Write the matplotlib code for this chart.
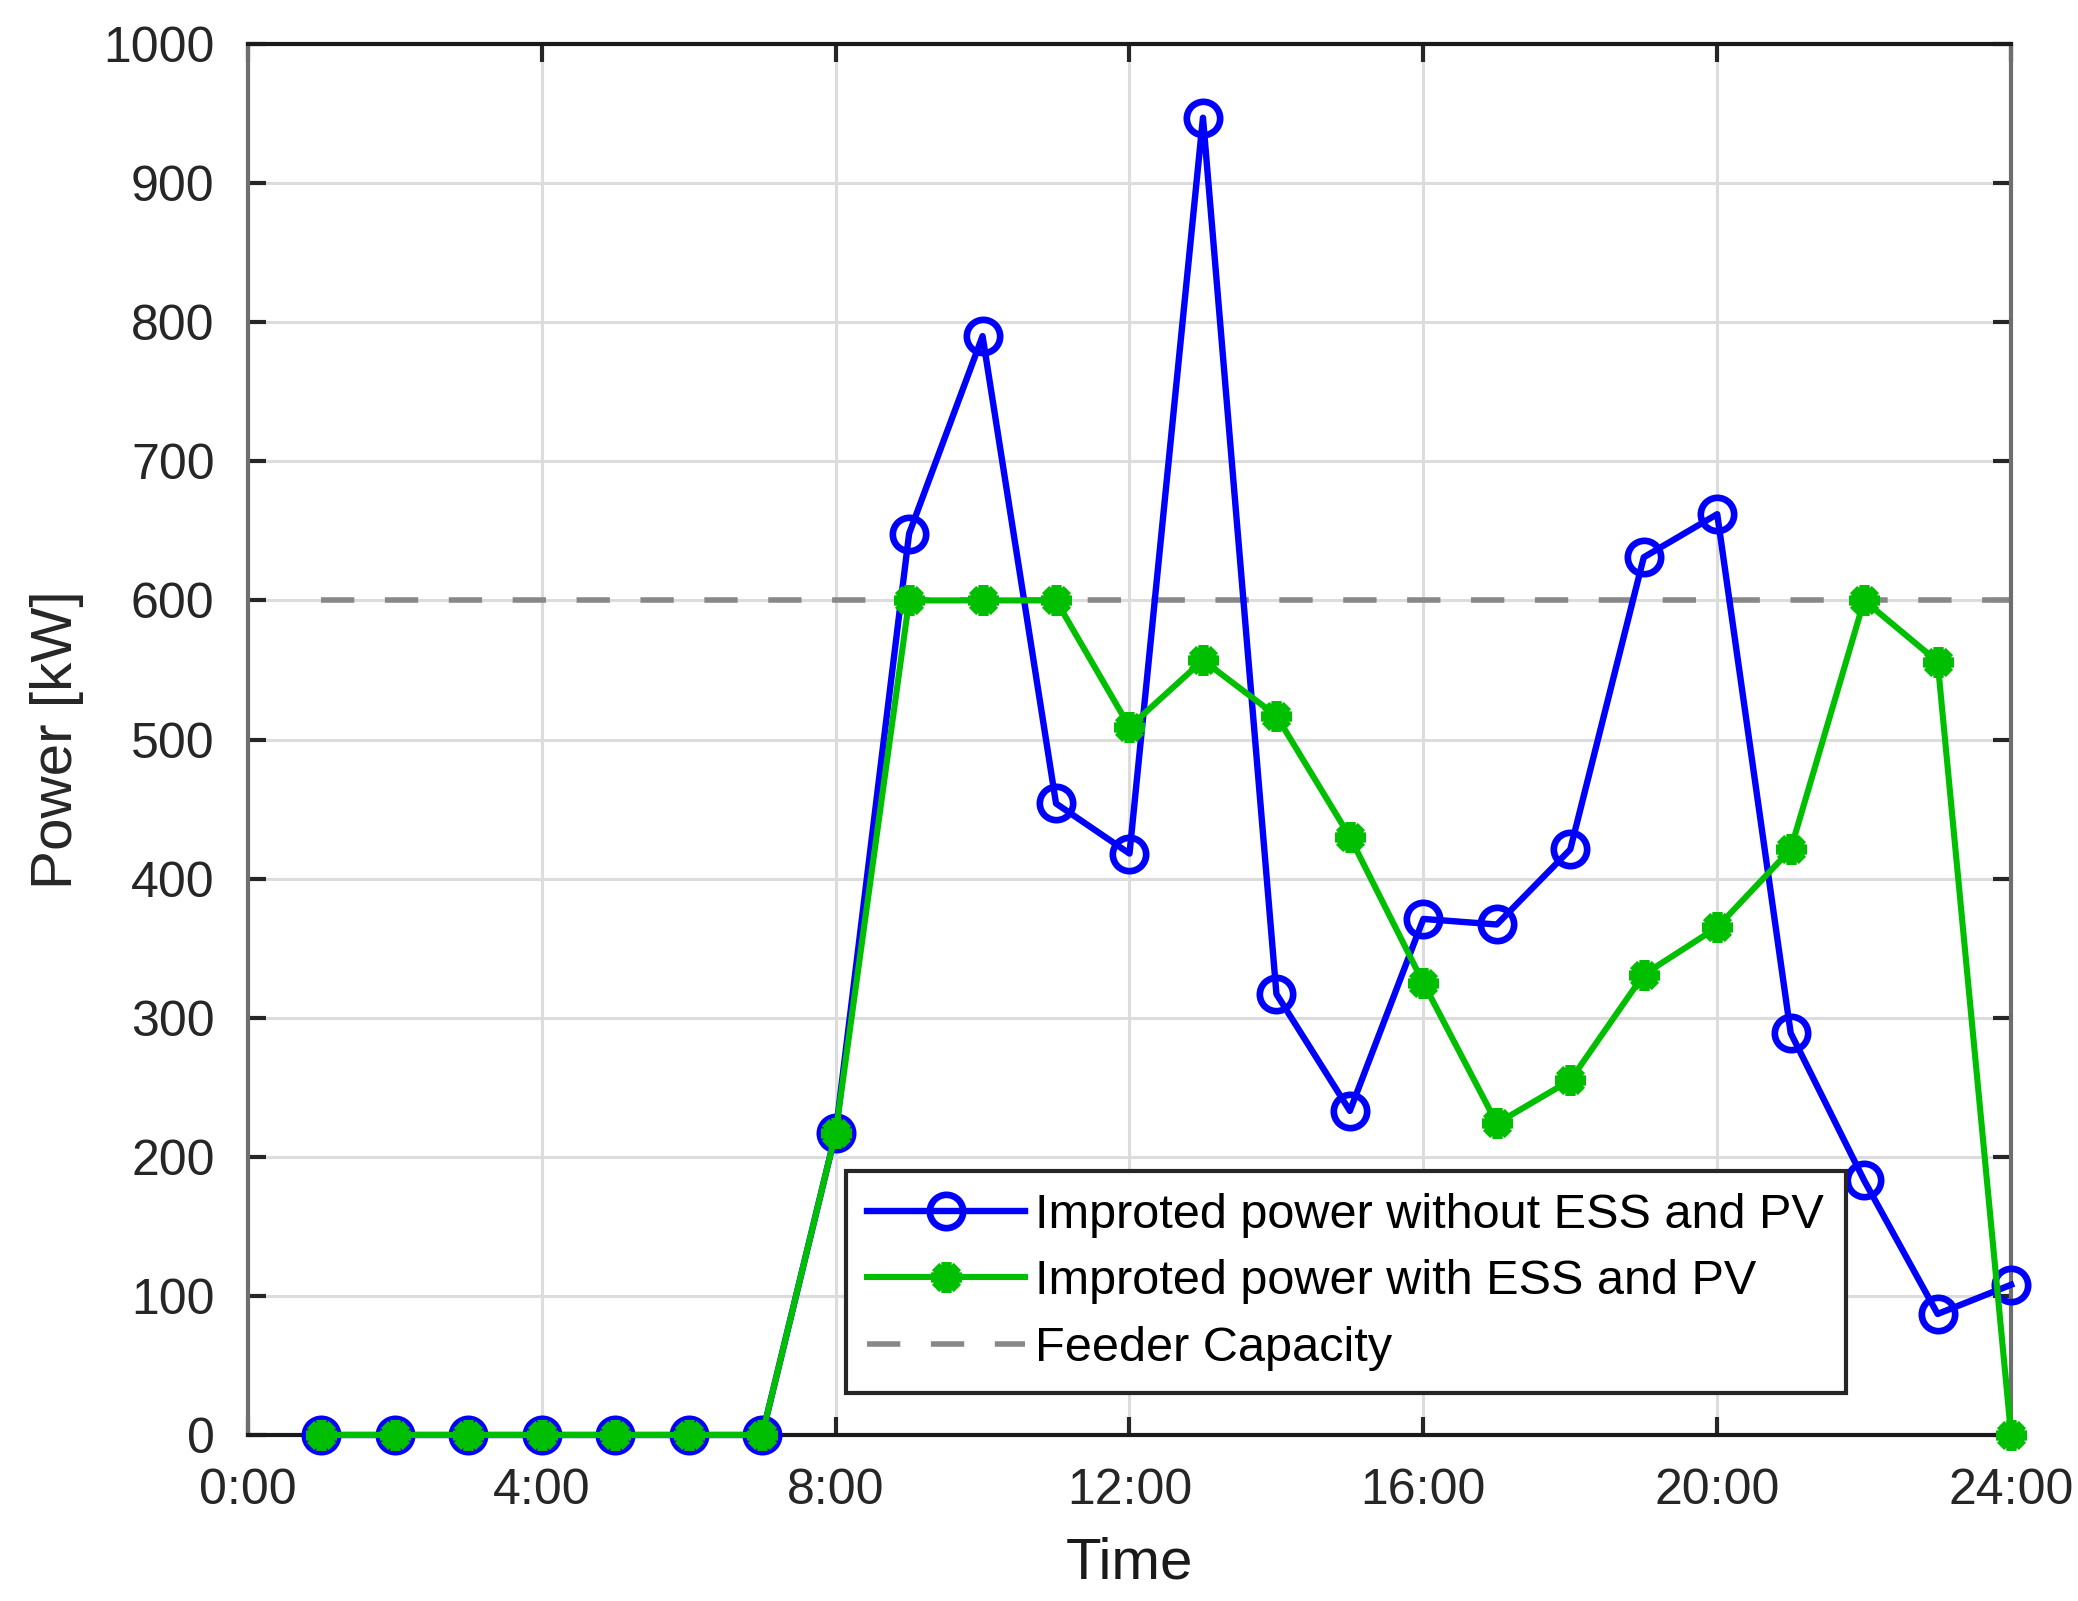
import numpy as np
import matplotlib
matplotlib.use('Agg')
import matplotlib.pyplot as plt

plt.rcParams['font.family'] = ['Liberation Sans', 'DejaVu Sans']

# hours of the day
hours = list(range(1, 25))
# power without ESS and PV [kW]
p_without = [0, 0, 0, 0, 0, 0, 0, 217, 648, 790, 454, 418, 947, 317,
             233, 371, 367, 421, 631, 662, 289, 183, 87, 108]
# power with ESS and PV [kW]
p_with = [0, 0, 0, 0, 0, 0, 0, 217, 600, 600, 600, 509, 557, 517,
          430, 325, 224, 255, 331, 365, 421, 600, 556, 0]
feeder_cap = 600
xticks = [0, 4, 8, 12, 16, 20, 24]
xticklabels = ['0:00', '4:00', '8:00', '12:00', '16:00', '20:00', '24:00']
yticks = list(range(0, 1001, 100))

fig = plt.figure(figsize=(20.78, 16.01), dpi=100)
ax = fig.add_axes([0.1193, 0.1037, 0.9678 - 0.1193, 0.9725 - 0.1037])

ax.plot(hours, p_without, color='#0000ff', lw=4.6, marker='o', ms=24,
        mew=4.8, mfc='none', mec='#0000ff',
        label='Improted power without ESS and PV', zorder=3, clip_on=False)
ax.plot(hours, p_with, color='#00bf00', lw=4.4, marker=(8, 2, 0), ms=22,
        mew=7, mec='#00bf00', mfc='#00bf00',
        label='Improted power with ESS and PV', zorder=4, clip_on=False)
ax.plot([hours[0], hours[-1]], [feeder_cap, feeder_cap], color='#888888',
        lw=4, ls=(0, (6, 5.5)), label='Feeder Capacity', zorder=2)

ax.set_xlim(0, 24)
ax.set_ylim(0, 1000)
ax.set_xticks(xticks)
ax.set_xticklabels(xticklabels)
ax.set_yticks(yticks)

ax.grid(True, color='#dcdcdc', lw=2.2)
ax.set_axisbelow(True)

ax.tick_params(direction='in', length=13, width=3, top=True, right=True,
               labelsize=36, colors='#262626')
ax.tick_params(axis='x', pad=24)
ax.tick_params(axis='y', pad=24)
for side in ['top', 'bottom']:
    ax.spines[side].set_color('#1a1a1a')
    ax.spines[side].set_linewidth(3)
for side in ['left', 'right']:
    ax.spines[side].set_color('#6e6e6e')
    ax.spines[side].set_linewidth(3)

ax.set_xlabel('Time', fontsize=42, color='#1a1a1a', labelpad=16)
ax.set_ylabel('Power [kW]', fontsize=42, color='#262626', labelpad=14)

leg = ax.legend(loc='lower left', bbox_to_anchor=(0.339, 0.03),
                borderaxespad=0, fontsize=35, handlelength=3.25,
                handletextpad=0.2, labelspacing=0.45, fancybox=False,
                framealpha=1, edgecolor='#262626', borderpad=0.45)
leg.get_frame().set_linewidth(3)

fig.savefig('out.png', dpi=100, facecolor='white')
